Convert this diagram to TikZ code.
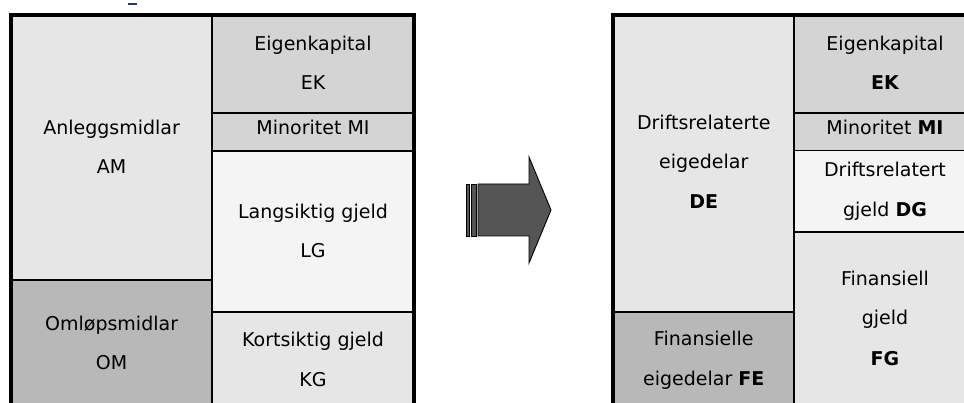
\documentclass[tikz,border=0pt]{standalone}
\usepackage{fontspec}
\setmainfont{DejaVu Sans}
\definecolor{cA}{HTML}{E6E6E6}
\definecolor{cB}{HTML}{D4D4D4}
\definecolor{cC}{HTML}{F4F4F4}
\definecolor{cD}{HTML}{B8B8B8}
\definecolor{cArrow}{HTML}{555555}
\definecolor{cMark}{HTML}{1F3A6E}
\begin{document}
\begin{tikzpicture}[x=1pt,y=-1pt,
  cell/.style={draw=black,line width=1.8pt},
  frame/.style={draw=black,line width=4pt},
  lbl/.style={anchor=base,inner sep=0pt,font=\fontsize{19}{23}\selectfont},
  arr/.style={draw=black,line width=0.9pt,fill=cArrow,line join=miter}]
\useasboundingbox (0,0) rectangle (964,403);
\clip (0,0) rectangle (964,403);
\fill[white] (0,0) rectangle (964,403);
% cut-off title mark
\fill[cMark] (128,3.5) rectangle (137,5.5);
% ---------------- left balance
\path[cell,fill=cA] (11,15.5) rectangle (212.3,280);
\path[cell,fill=cD] (11,280) rectangle (212.3,406);
\path[cell,fill=cB] (212.3,15.5) rectangle (414,112.7);
\path[cell,fill=cB] (212.3,112.7) rectangle (414,150.7);
\path[cell,fill=cC] (212.3,150.7) rectangle (414,312.3);
\path[cell,fill=cA] (212.3,312.3) rectangle (414,406);
\draw[frame] (11,15.5) rectangle (414,406);
\node[lbl] (am1) at (111.6,134.5) {Anleggsmidlar};
\node[lbl] (am2) at (111.6,174) {AM};
\node[lbl] (om1) at (111.6,330.5) {Omløpsmidlar};
\node[lbl] (om2) at (111.6,370) {OM};
\node[lbl] (ek1) at (313,50.5) {Eigenkapital};
\node[lbl] (ek2) at (313,90) {EK};
\node[lbl] (mi) at (313,134.5) {Minoritet MI};
\node[lbl] (lg1) at (313,218.5) {Langsiktig gjeld};
\node[lbl] (lg2) at (313,257.5) {LG};
\node[lbl] (kg1) at (313,346.5) {Kortsiktig gjeld};
\node[lbl] (kg2) at (313,386.5) {KG};
% ---------------- arrow
\path[arr] (466,184) rectangle (469.5,236);
\path[arr] (471.5,184) rectangle (476,236);
\path[arr] (478,184) -- (529,184) -- (529,157) -- (551,210) -- (529,263) -- (529,236) -- (478,236) -- cycle;
% ---------------- right balance
\path[cell,fill=cA] (613.3,15.3) rectangle (794.3,312.3);
\path[cell,fill=cD] (613.3,312.3) rectangle (794.3,406);
\path[cell,fill=cB] (794.3,15.3) rectangle (976,112.7);
\path[cell,fill=cB] (794.3,112.7) rectangle (976,150.5);
\path[cell,fill=cC] (794.3,150.5) rectangle (976,231.7);
\path[cell,fill=cA] (794.3,231.7) rectangle (976,406);
\draw[frame] (613.3,15.3) rectangle (976,406);
\node[lbl] (de1) at (703.8,129.5) {Driftsrelaterte};
\node[lbl] (de2) at (703.8,168.8) {eigedelar};
\node[lbl] (de3) at (703.8,208.3) {\bfseries DE};
\node[lbl] (fe1) at (703.8,345.8) {Finansielle};
\node[lbl] (fe2) at (703.8,385.7) {eigedelar \bfseries FE};
\node[lbl] (rek1) at (885,50.5) {Eigenkapital};
\node[lbl] (rek2) at (885,90) {\bfseries EK};
\node[lbl] (rmi) at (885,135) {Minoritet \textbf{MI}};
\node[lbl] (dg1) at (885,176.5) {Driftsrelatert};
\node[lbl] (dg2) at (885,216.5) {gjeld \textbf{DG}};
\node[lbl] (fg1) at (885,286) {Finansiell};
\node[lbl] (fg2) at (885,325) {gjeld};
\node[lbl] (fg3) at (885,365.5) {\bfseries FG};
\end{tikzpicture}
\end{document}
